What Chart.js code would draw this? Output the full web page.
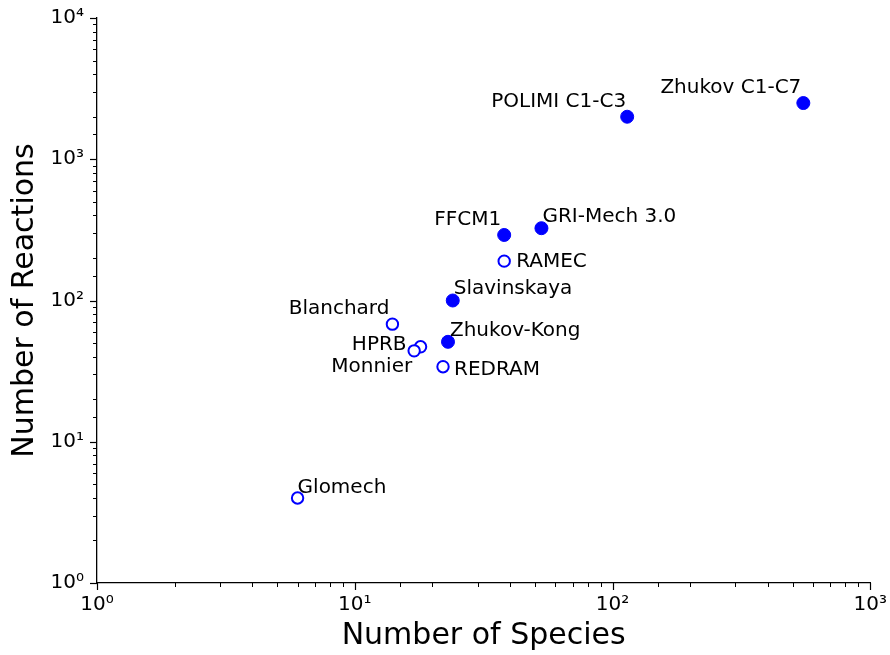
<!DOCTYPE html>
<html lang="en">
<head>
    <meta charset="UTF-8">
    <title>Mechanisms: Species vs Reactions</title>
    <script src="https://cdn.jsdelivr.net/npm/chart.js"></script>
    <style>
        html, body { margin: 0; padding: 0; background: #fff; }
        .chart-container { width: 890px; height: 655px; }
    </style>
</head>
<body>
    <div class="chart-container">
        <canvas id="mechChart" width="890" height="655"></canvas>
    </div>

    <script>
        // detailed mechanisms (filled markers)
        const detailedNames = ['Zhukov C1-C7', 'POLIMI C1-C3', 'GRI-Mech 3.0', 'FFCM1', 'Slavinskaya', 'Zhukov-Kong'];
        const detailedSpecies = [550, 114, 53, 38, 24, 23];
        const detailedReactions = [2500, 2000, 325, 291, 100, 51];

        // reduced mechanisms (open markers)
        const reducedNames = ['RAMEC', 'Blanchard', 'HPRB', 'Monnier', 'REDRAM', 'Glomech'];
        const reducedSpecies = [38, 14, 18, 17, 22, 6];
        const reducedReactions = [190, 68, 47, 44, 34, 4];

        const xRange = [1, 1000];
        const yRange = [1, 10000];

        // label placement relative to the marker: [dx, dy, align]
        const detailedLabelPos = [[-2, -10, 'right'], [-1, -10, 'right'], [1, -6, 'left'], [-3, -10, 'right'], [1, -7, 'left'], [2, -6, 'left']];
        const reducedLabelPos = [[12, 6, 'left'], [-3, -10, 'right'], [-14, 3, 'right'], [-2, 21, 'right'], [11, 8, 'left'], [0, -5, 'left']];

        const sup = ['⁰', '¹', '²', '³', '⁴', '⁵'];
        const isDecade = v => Math.abs(Math.log10(v) - Math.round(Math.log10(v))) < 1e-9;
        const decadeLabel = v => isDecade(v) ? '10' + sup[Math.round(Math.log10(v))] : '';

        Chart.defaults.font.family = 'DejaVu Sans';
        Chart.defaults.color = '#000';

        const toPoints = (xs, ys) => xs.map((x, i) => ({ x: x, y: ys[i] }));

        // point labels drawn next to each marker
        const pointLabels = {
            id: 'pointLabels',
            afterDatasetsDraw(chart) {
                const ctx = chart.ctx;
                const sets = [[detailedNames, detailedLabelPos], [reducedNames, reducedLabelPos]];
                ctx.save();
                ctx.font = '20px "DejaVu Sans"';
                ctx.fillStyle = '#000';
                ctx.textBaseline = 'alphabetic';
                chart.data.datasets.forEach((ds, d) => {
                    const meta = chart.getDatasetMeta(d);
                    meta.data.forEach((pt, i) => {
                        const p = sets[d][1][i];
                        ctx.textAlign = p[2];
                        ctx.fillText(sets[d][0][i], pt.x + p[0], pt.y + p[1]);
                    });
                });
                ctx.restore();
            }
        };

        // outward major/minor tick marks like matplotlib
        const logTicks = {
            id: 'logTicks',
            afterDraw(chart) {
                const ctx = chart.ctx;
                ctx.save();
                ctx.strokeStyle = '#000';
                ['x', 'y'].forEach(id => {
                    const scale = chart.scales[id];
                    scale.ticks.forEach(t => {
                        const major = isDecade(t.value);
                        const len = major ? 7 : 4;
                        const pos = Math.round(scale.getPixelForValue(t.value)) + 0.5;
                        ctx.lineWidth = major ? 1.2 : 1;
                        ctx.beginPath();
                        if (id === 'x') {
                            ctx.moveTo(pos, scale.top);
                            ctx.lineTo(pos, scale.top + len);
                        } else {
                            ctx.moveTo(scale.right, pos);
                            ctx.lineTo(scale.right - len, pos);
                        }
                        ctx.stroke();
                    });
                });
                ctx.restore();
            }
        };

        const ctx = document.getElementById('mechChart').getContext('2d');

        const chart = new Chart(ctx, {
            type: 'scatter',
            data: {
                datasets: [{
                    label: 'Detailed',
                    data: toPoints(detailedSpecies, detailedReactions),
                    backgroundColor: '#0000ff',
                    borderColor: '#0000ff',
                    borderWidth: 1,
                    pointRadius: 6.5
                }, {
                    label: 'Reduced',
                    data: toPoints(reducedSpecies, reducedReactions),
                    backgroundColor: '#ffffff',
                    borderColor: '#0000ff',
                    borderWidth: 2,
                    pointRadius: 5.7
                }]
            },
            options: {
                responsive: false,
                animation: false,
                layout: { padding: { top: 17, right: 19, left: 0, bottom: 0 } },
                plugins: {
                    legend: { display: false },
                    tooltip: { enabled: false }
                },
                scales: {
                    x: {
                        type: 'logarithmic',
                        min: xRange[0],
                        max: xRange[1],
                        afterFit: s => { s.height = 72; },
                        grid: { display: true, drawOnChartArea: false, drawTicks: true, tickLength: 7, tickColor: 'rgba(0,0,0,0)' },
                        border: { display: true, color: '#000', width: 1.3 },
                        ticks: {
                            autoSkip: false,
                            maxRotation: 0,
                            padding: 3,
                            font: { size: 20 },
                            callback: decadeLabel
                        },
                        title: {
                            display: true,
                            text: 'Number of Species',
                            font: { size: 30, lineHeight: 1.2 },
                            padding: { top: 0, bottom: 1 }
                        }
                    },
                    y: {
                        type: 'logarithmic',
                        min: yRange[0],
                        max: yRange[1],
                        afterFit: s => { s.width = 97; },
                        grid: { display: true, drawOnChartArea: false, drawTicks: true, tickLength: 7, tickColor: 'rgba(0,0,0,0)' },
                        border: { display: true, color: '#000', width: 1.3 },
                        ticks: {
                            autoSkip: false,
                            padding: 6,
                            font: { size: 20 },
                            callback: decadeLabel
                        },
                        title: {
                            display: true,
                            text: 'Number of Reactions',
                            font: { size: 30, lineHeight: 1.2 },
                            padding: { top: 7, bottom: 0 }
                        }
                    }
                }
            },
            plugins: [pointLabels, logTicks]
        });
    </script>
</body>
</html>
